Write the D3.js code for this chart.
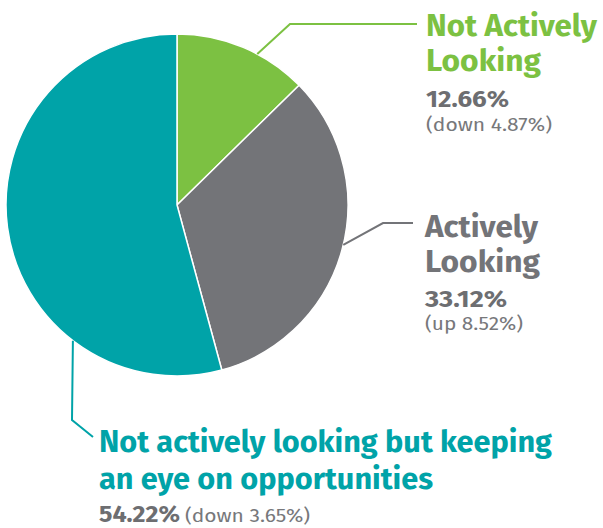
<!DOCTYPE html>
<html><head><meta charset="utf-8">
<script src="https://cdn.jsdelivr.net/npm/d3@7"></script>
<style>
html,body{margin:0;padding:0;background:#fff;}
svg{display:block;}
text{font-family:"Fira Sans","Lato","Open Sans",sans-serif;}
</style></head>
<body>
<svg id="chart" width="603" height="528"></svg>
<script>
const categories = ["Not Actively Looking", "Actively Looking", "Not actively looking but keeping an eye on opportunities"];
const values = [12.66, 33.12, 54.22];
const changes = ["(down 4.87%)", "(up 8.52%)", "(down 3.65%)"];
const colors = ["#7cc142", "#737478", "#00a3a8"];

const svg = d3.select("#chart");
const cx = 177, cy = 205, r = 171;
const g = svg.append("g").attr("transform", `translate(${cx},${cy})`);

const pie = d3.pie().sort(null).value(d => d);
const arcs = pie(values);
const arc = d3.arc().innerRadius(0).outerRadius(r);

g.selectAll("path").data(arcs).enter().append("path")
  .attr("d", arc)
  .attr("fill", (d, i) => colors[i])
  .attr("stroke", "#fff")
  .attr("stroke-width", 1.5);

// leader lines (anchor angle on rim in degrees, then layout points)
const leaders = [
  {angle: 28, pts: [[290, 24], [417, 24]]},
  {angle: 103.5, pts: [[383, 223], [413, 223]]},
  {angle: 217.5, pts: [[72, 420], [93, 437]]}
];
leaders.forEach((l, i) => {
  const p = d3.pointRadial(l.angle * Math.PI / 180, r);
  const pts = [[cx + p[0], cy + p[1]], ...l.pts];
  svg.append("path")
    .attr("d", d3.line()(pts))
    .attr("fill", "none")
    .attr("stroke", colors[i])
    .attr("stroke-width", 2);
});

function fit(sel, w) {
  sel.attr("textLength", w).attr("lengthAdjust", "spacingAndGlyphs");
  return sel;
}

// Label 1
const titleSize = 30;
fit(svg.append("text").attr("x", 426).attr("y", 36).attr("font-size", titleSize).attr("font-weight", 700)
  .attr("fill", colors[0]).text("Not Actively"), 171);
fit(svg.append("text").attr("x", 426).attr("y", 71).attr("font-size", titleSize).attr("font-weight", 700)
  .attr("fill", colors[0]).text("Looking"), 115);
fit(svg.append("text").attr("x", 426).attr("y", 107).attr("font-size", 24).attr("font-weight", 700)
  .attr("fill", "#6d6e71").text(values[0].toFixed(2) + "%"), 83);
fit(svg.append("text").attr("x", 426).attr("y", 131).attr("font-size", 18).attr("font-weight", 400)
  .attr("fill", "#77787b").text(changes[0]), 126);

// Label 2
fit(svg.append("text").attr("x", 425).attr("y", 237).attr("font-size", titleSize).attr("font-weight", 700)
  .attr("fill", colors[1]).text("Actively"), 113);
fit(svg.append("text").attr("x", 425).attr("y", 272).attr("font-size", titleSize).attr("font-weight", 700)
  .attr("fill", colors[1]).text("Looking"), 115);
fit(svg.append("text").attr("x", 425).attr("y", 307).attr("font-size", 24).attr("font-weight", 700)
  .attr("fill", "#6d6e71").text(values[1].toFixed(2) + "%"), 82);
fit(svg.append("text").attr("x", 425).attr("y", 330).attr("font-size", 18).attr("font-weight", 400)
  .attr("fill", "#77787b").text(changes[1]), 98);

// Label 3
fit(svg.append("text").attr("x", 99).attr("y", 452).attr("font-size", titleSize).attr("font-weight", 700)
  .attr("fill", colors[2]).text("Not actively looking but keeping"), 453);
fit(svg.append("text").attr("x", 99).attr("y", 489).attr("font-size", titleSize).attr("font-weight", 700)
  .attr("fill", colors[2]).text("an eye on opportunities"), 334);
fit(svg.append("text").attr("x", 99).attr("y", 522).attr("font-size", 24).attr("font-weight", 700)
  .attr("fill", "#6d6e71").text(values[2].toFixed(2) + "%"), 81);
fit(svg.append("text").attr("x", 185).attr("y", 522).attr("font-size", 18).attr("font-weight", 400)
  .attr("fill", "#77787b").text(changes[2]), 125);
</script>
</body></html>
